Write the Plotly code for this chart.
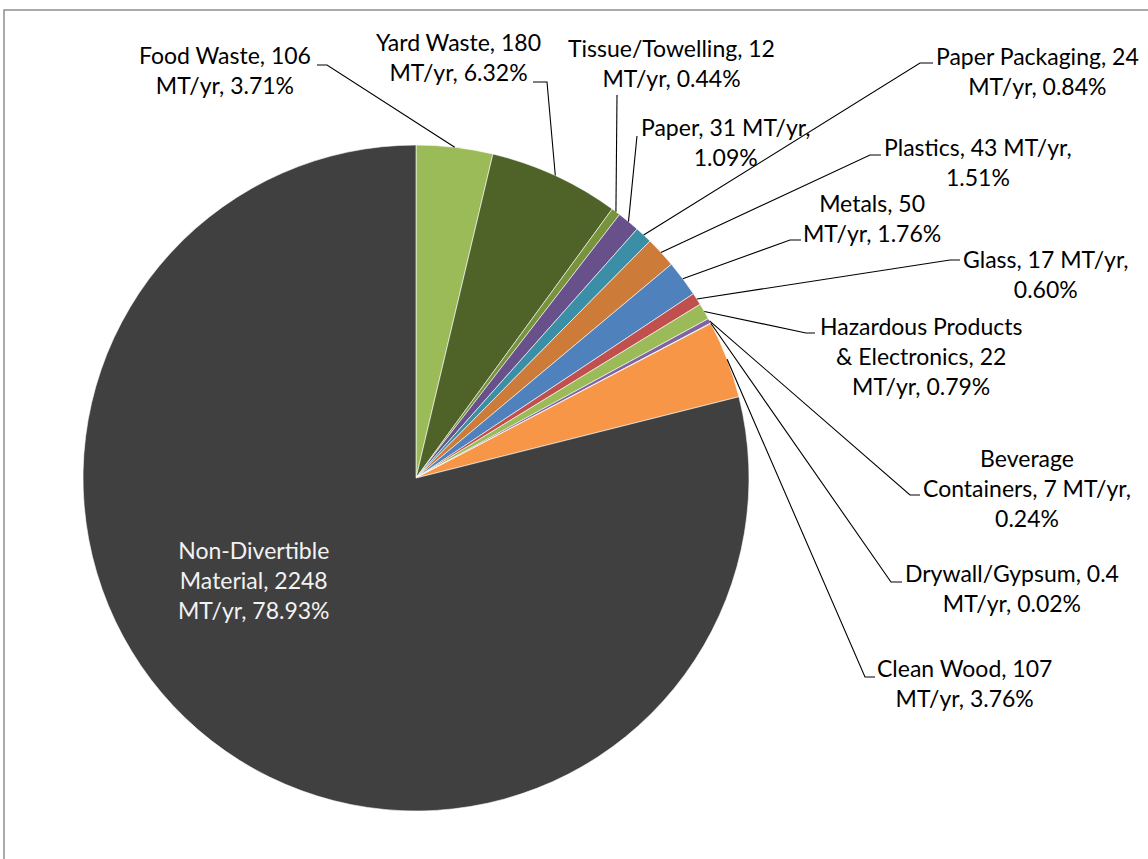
import math
import plotly.graph_objects as go

# ---------------- data ----------------
categories = ["Food Waste", "Yard Waste", "Tissue/Towelling", "Paper", "Paper Packaging",
              "Plastics", "Metals", "Glass", "Hazardous Products & Electronics",
              "Beverage Containers", "Drywall/Gypsum", "Clean Wood", "Non-Divertible Material"]
mt_per_year = [106, 180, 12, 31, 24, 43, 50, 17, 22, 7, 0.4, 107, 2248]
percent = [3.71, 6.32, 0.44, 1.09, 0.84, 1.51, 1.76, 0.60, 0.79, 0.24, 0.02, 3.76, 78.93]

# words per line for each data label
line_words = [[3, 2], [3, 2], [2, 2], [3, 1], [3, 2], [3, 1], [2, 2], [3, 1],
              [2, 3, 2], [1, 3, 1], [2, 2], [3, 2], [1, 2, 2]]

# ---------------- styles / layout ----------------
colors = ["#9BBB59", "#4F6228", "#77933C", "#68508A", "#3A8EA5", "#CD7B39", "#4F81BD",
          "#C0504D", "#9BBB59", "#8064A2", "#4BACC6", "#F79646", "#404040"]

W, H = 1148, 859
CX, CY, R = 416, 478, 333  # pie centre / radius in pixels

# label centre positions (pixels) and leader-line elbow points (pixels)
label_pos = [(225, 70), (458, 57), (671, 63), (725, 142), (1037, 71), (978, 162),
             (872, 218), (1046, 274), (921, 356), (1027, 488), (1012, 588),
             (964, 683), (254, 580)]
leader_pts = [
    [(327, 65), (317, 65)],
    [(547, 82), (533, 82)],
    [(617, 95)],
    [(637, 136)],
    [(920, 63), (933, 63)],
    [(870, 155), (881, 155)],
    [(790, 240), (801, 240)],
    [(950, 260), (960, 260)],
    [(806, 333), (815, 333)],
    [(910, 495), (920, 495)],
    [(891, 582), (902, 582)],
    [(865, 677), (875, 677)],
    None,
]

FONT = "Lato"
FS = 23


def px(x):
    return x / W


def py(y):
    return 1 - y / H


def label_text(i):
    words = f"{categories[i]}, {mt_per_year[i]:g} MT/yr, {percent[i]:.2f}%".split(" ")
    lines, k = [], 0
    for n in line_words[i]:
        lines.append(" ".join(words[k:k + n]))
        k += n
    return "<br>".join(lines)


fig = go.Figure()
fig.add_trace(go.Pie(
    labels=categories,
    values=percent,
    sort=False,
    direction="clockwise",
    rotation=0,
    textinfo="none",
    hoverinfo="skip",
    marker=dict(colors=colors, line=dict(color="white", width=0.6)),
    domain=dict(x=[px(CX - R), px(CX + R)], y=[py(CY + R), py(CY - R)]),
    showlegend=False,
))

shapes = []
annotations = []
total = sum(percent)
cum = 0.0
for i, v in enumerate(percent):
    mid = (cum + v / 2) / total * 2 * math.pi
    cum += v
    ex = CX + R * math.sin(mid)
    ey = CY - R * math.cos(mid)
    lx, ly = label_pos[i]
    inside = leader_pts[i] is None
    annotations.append(dict(
        x=px(lx), y=py(ly), xref="paper", yref="paper",
        text=label_text(i), showarrow=False, align="center",
        xanchor="center", yanchor="middle",
        font=dict(family=FONT, size=FS, color="#F2F2F2" if inside else "#000000"),
    ))
    if not inside:
        pts = [(ex, ey)] + leader_pts[i]
        path = "M " + " L ".join(f"{px(a):.5f},{py(b):.5f}" for a, b in pts)
        shapes.append(dict(type="path", path=path, xref="paper", yref="paper",
                           line=dict(color="#000000", width=1.1)))

# chart area border
shapes.append(dict(type="rect", xref="paper", yref="paper",
                   x0=px(4), y0=py(10), x1=1.02, y1=-0.02,
                   line=dict(color="#8E8E8E", width=1.5), fillcolor="rgba(0,0,0,0)"))

fig.update_layout(
    width=W, height=H, autosize=False,
    margin=dict(l=0, r=0, t=0, b=0),
    paper_bgcolor="white", plot_bgcolor="white",
    shapes=shapes, annotations=annotations,
    font=dict(family=FONT),
)

fig.write_html(
    "out.html",
    config={"displayModeBar": False},
    post_script="document.body.style.margin='0';document.body.style.overflow='hidden';",
)
